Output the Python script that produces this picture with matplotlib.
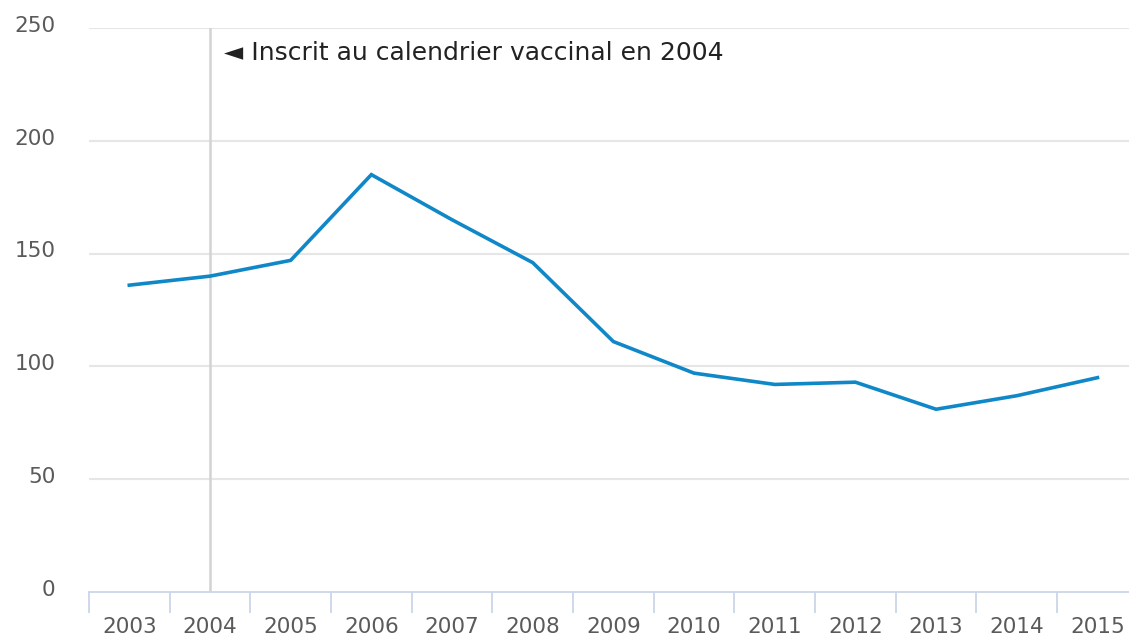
import matplotlib.pyplot as plt
import matplotlib.transforms as mtransforms
import numpy as np

# data
years = ['2003', '2004', '2005', '2006', '2007', '2008', '2009',
         '2010', '2011', '2012', '2013', '2014', '2015']
values = [136, 140, 147, 185, 165, 146, 111, 97, 92, 93, 81, 87, 95]
y_ticks = [0, 50, 100, 150, 200, 250]
marker_year = '2004'
marker_label = '\u25c4 Inscrit au calendrier vaccinal en 2004'

plt.rcParams['font.family'] = ['DejaVu Sans']

fig = plt.figure(figsize=(11.29, 6.36), dpi=100)
ax = fig.add_axes([0.0788, 0.0692, 0.929, 0.8868])

x = np.arange(len(years))

# grid lines
for t in y_ticks[1:]:
    ax.axhline(t, color='#e6e6e6', lw=1.5, zorder=0)

# vertical plot line for 2004
ax.axvline(years.index(marker_year), color='#d3d3d3', lw=1.8, zorder=1)

ax.plot(x, values, color='#1088c8', lw=2.6, solid_joinstyle='miter', zorder=3)

ax.text(years.index(marker_year) + 0.17, 238.8, marker_label,
        fontsize=18, color='#222222', va='center', ha='left')

ax.set_xlim(-0.5, len(years) - 0.5)
ax.set_ylim(0, 250)

for s in ['top', 'right', 'left']:
    ax.spines[s].set_visible(False)
ax.spines['bottom'].set_color('#ccd6eb')
ax.spines['bottom'].set_linewidth(1.3)

# category ticks between labels
ax.set_xticks(np.arange(-0.5, len(years) - 0.4, 1), minor=True)
ax.set_xticks(x)
ax.set_xticklabels(years)
ax.tick_params(axis='x', which='minor', length=15, width=1.3, color='#ccd6eb')
ax.tick_params(axis='x', which='major', length=0, pad=18, labelsize=15.5,
               labelcolor='#5a5a5a')

ax.set_yticks(y_ticks)
ax.tick_params(axis='y', length=0, pad=24, labelsize=15.5, labelcolor='#5a5a5a')
shift = mtransforms.ScaledTranslation(0, 3 / 72, fig.dpi_scale_trans)
for lbl in ax.get_yticklabels():
    lbl.set_verticalalignment('center_baseline')
    lbl.set_transform(lbl.get_transform() + shift)

fig.savefig('out.png', dpi=100)
